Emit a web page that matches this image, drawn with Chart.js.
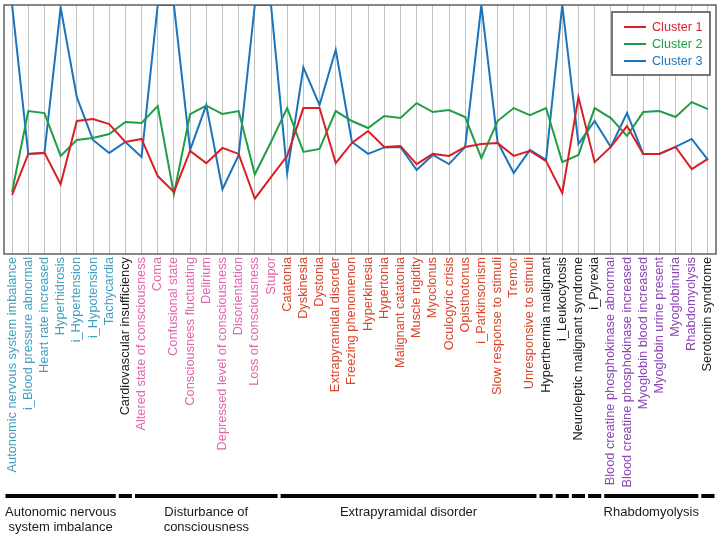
<!DOCTYPE html>
<html>
<head>
<meta charset="utf-8">
<script src="https://cdn.jsdelivr.net/npm/chart.js@4.4.1/dist/chart.umd.min.js"></script>
<style>
  html, body { margin:0; padding:0; background:#fff; }
  #wrap { width:719px; height:535px; position:relative; }
</style>
</head>
<body>
<div id="wrap"><canvas id="chartClusters"></canvas></div>
<script>
// ── data ──
const categories = [
  'Autonomic nervous system imbalance','i_Blood pressure abnormal','Heart rate increased','Hyperhidrosis',
  'i_Hypertension','i_Hypotension','Tachycardia','Cardiovascular insufficiency',
  'Altered state of consciousness','Coma','Confusional state','Consciousness fluctuating','Delirium',
  'Depressed level of consciousness','Disorientation','Loss of consciousness','Stupor',
  'Catatonia','Dyskinesia','Dystonia','Extrapyramidal disorder','Freezing phenomenon','Hyperkinesia',
  'Hypertonia','Malignant catatonia','Muscle rigidity','Myoclonus','Oculogyric crisis','Opisthotonus',
  'i_Parkinsonism','Slow response to stimuli','Tremor','Unresponsive to stimuli',
  'Hyperthermia malignant','i_Leukocytosis','Neuroleptic malignant syndrome','i_Pyrexia',
  'Blood creatine phosphokinase abnormal','Blood creatine phosphokinase increased',
  'Myoglobin blood increased','Myoglobin urine present','Myoglobinuria','Rhabdomyolysis',
  'Serotonin syndrome'
];

const seriesNames = ['Cluster 1','Cluster 2','Cluster 3'];

const cluster1 = [23.7,40.2,40.6,28,53.4,54.2,52.2,45,46.2,31.3,24.9,41.4,36.5,42.6,40.2,22.2,30.9,
  39.4,58.6,58.6,36.5,44.6,49.4,43,43.4,36.1,40.2,39.4,43,44.2,44.6,39.4,41.4,
  37.3,24.5,63,36.9,43,51.4,40.2,40.2,43,34.1,38.2];
const cluster2 = [25,57.4,56.6,39.4,45.8,46.6,48.2,53,52.6,59.4,24,56.2,59.6,56.2,57.4,32,45,
  58.6,41,42.2,57.4,53.4,50.6,55.4,54.6,60.6,57,57.8,55,38.5,53.4,58.6,55.8,
  58.6,36.9,39.8,58.6,54.6,47.4,57,57.4,55,61,58.2];
const cluster3 = [100,40.2,40.6,99,63,45.8,40.6,45,39,100,100,41.8,59.8,26,39.7,100,100,
  32.5,75,59.8,82,45,40.2,42.8,43,33.7,39.8,36.1,43,100,45,32.5,41.8,
  37.8,100,44.2,53.4,43,56.6,40.2,40.2,43,46.2,37.8];

// category groups (first / last index) and their captions
const groupStart = [0,7,8,17,33,34,35,36,37,43];
const groupEnd   = [6,7,16,32,33,34,35,36,42,43];
const groupCaptions = [
  ['Autonomic nervous','system imbalance'], [], ['Disturbance of','consciousness'],
  ['Extrapyramidal disorder'], [], [], [], [], ['Rhabdomyolysis'], []
];

// ── styles ──
const FONT = "'Liberation Sans', Arial, sans-serif";
const groupColors = ['#3f9fc0','#1a1a1a','#e264ab','#d9442b','#1a1a1a','#1a1a1a','#1a1a1a','#1a1a1a','#8a45b4','#1a1a1a'];
const lineColors = ['#d91f26','#1e9e45','#1a74bd'];

function groupOf(i) {
  for (let g = 0; g < groupStart.length; g++) if (i >= groupStart[g] && i <= groupEnd[g]) return g;
  return 0;
}

// frame, legend box and group bars
const extras = {
  id: 'extras',
  beforeDatasetsDraw(chart) {
    const {ctx, chartArea:a} = chart;
    ctx.save();
    ctx.strokeStyle = '#4a4a4a';
    ctx.lineWidth = 1.3;
    ctx.strokeRect(a.left, a.top, a.right - a.left, a.bottom - a.top);
    ctx.restore();
  },
  afterDatasetsDraw(chart) {
    const {ctx} = chart;
    const x = chart.scales.x;
    const half = (x.getPixelForValue(1) - x.getPixelForValue(0)) / 2;
    ctx.save();
    // group bars + captions
    groupStart.forEach((s, g) => {
      const l = x.getPixelForValue(s) - half + 1.5;
      const r = x.getPixelForValue(groupEnd[g]) + half - 1.5;
      ctx.fillStyle = '#000';
      ctx.fillRect(l, 494, r - l, 4);
      ctx.font = '13px ' + FONT;
      ctx.fillStyle = '#1a1a1a';
      ctx.textAlign = 'center';
      ctx.textBaseline = 'alphabetic';
      groupCaptions[g].forEach((t, k) => ctx.fillText(t, (l + r) / 2, 516 + k * 15));
    });
    // legend
    const bx = 612, by = 12, bw = 98, bh = 63;
    ctx.fillStyle = '#fff';
    ctx.fillRect(bx, by, bw, bh);
    ctx.strokeStyle = '#555';
    ctx.lineWidth = 1.6;
    ctx.strokeRect(bx, by, bw, bh);
    chart.data.datasets.forEach((ds, i) => {
      const y = 27 + i * 17;
      ctx.strokeStyle = ds.borderColor;
      ctx.lineWidth = 2;
      ctx.beginPath(); ctx.moveTo(624, y); ctx.lineTo(646, y); ctx.stroke();
      ctx.fillStyle = ds.borderColor;
      ctx.font = '12.6px ' + FONT;
      ctx.textAlign = 'left';
      ctx.textBaseline = 'middle';
      ctx.fillText(ds.label, 652, y + 0.5);
    });
    ctx.restore();
  }
};

new Chart(document.getElementById('chartClusters').getContext('2d'), {
  type: 'line',
  data: {
    labels: categories,
    datasets: [cluster1, cluster2, cluster3].map((d, i) => ({
      label: seriesNames[i],
      data: d,
      borderColor: lineColors[i],
      backgroundColor: lineColors[i],
      borderWidth: 2,
      pointRadius: 0,
      tension: 0,
      fill: false,
    }))
  },
  options: {
    responsive: true, maintainAspectRatio: false, animation: false,
    layout: { padding: { left: 4, right: 3, top: 5, bottom: 0 } },
    plugins: { legend: { display: false }, tooltip: { enabled: false } },
    scales: {
      x: {
        offset: true,
        grid: { offset: false, color: '#c2c2c2', lineWidth: 1, drawTicks: false },
        border: { display: false },
        ticks: {
          autoSkip: false, maxRotation: 90, minRotation: 90, padding: 3,
          font: { family: FONT, size: 12.8 },
          color: c => groupColors[groupOf(c.index)],
        },
        afterFit: s => { s.height = 281; s.paddingLeft = 0; s.paddingRight = 0; }
      },
      y: { display: false, min: 0, max: 100 }
    }
  },
  plugins: [extras]
});
</script>
</body>
</html>
